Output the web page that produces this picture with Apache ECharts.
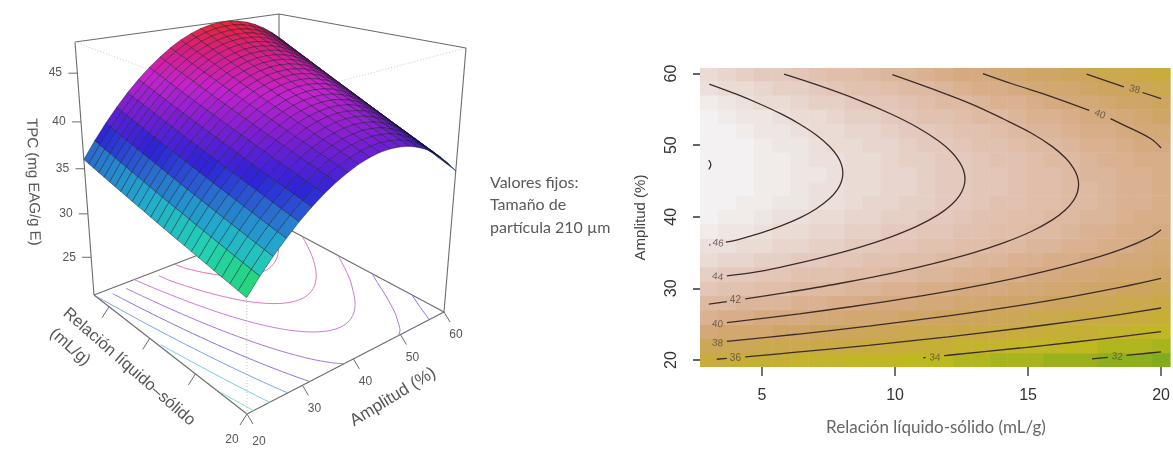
<!DOCTYPE html>
<html><head><meta charset="utf-8"><title>TPC</title>
<style>html,body{margin:0;padding:0;background:#fff}#c{width:1173px;height:468px}</style>
<script src="https://cdn.jsdelivr.net/npm/echarts@6/dist/echarts.min.js"></script></head>
<body><div id="c"></div>
<script>
// ---------- DATA ----------
const relacion=[3,3.68,4.36,5.04,5.72,6.4,7.08,7.76,8.44,9.12,9.8,10.48,11.16,11.84,12.52,13.2,13.88,14.56,15.24,15.92,16.6,17.28,17.96,18.64,19.32,20];
const amplitud=[20,22,24,26,28,30,32,34,36,38,40,42,44,46,48,50,52,54,56,58,60];
const tpcA20=[36.00,35.83,35.67,35.50,35.33,35.16,34.99,34.82,34.65,34.47,34.30,34.13,33.95,33.77,33.60,33.42,33.24,33.07,32.89,32.71,32.53,32.34,32.16,31.98,31.80,31.61];
const tpcA22=[37.73,37.55,37.38,37.20,37.02,36.84,36.66,36.48,36.30,36.11,35.93,35.75,35.56,35.38,35.19,35.01,34.82,34.63,34.44,34.25,34.06,33.87,33.68,33.48,33.29,33.10];
const tpcA24=[39.32,39.13,38.95,38.76,38.57,38.38,38.19,38.00,37.81,37.62,37.42,37.23,37.04,36.84,36.64,36.45,36.25,36.05,35.85,35.65,35.45,35.25,35.05,34.85,34.65,34.44];
const tpcA26=[40.78,40.58,40.39,40.19,39.99,39.79,39.59,39.39,39.19,38.99,38.78,38.58,38.38,38.17,37.97,37.76,37.55,37.35,37.14,36.93,36.72,36.51,36.29,36.08,35.87,35.65];
const tpcA28=[42.11,41.90,41.70,41.49,41.28,41.07,40.86,40.65,40.44,40.23,40.02,39.80,39.59,39.37,39.16,38.94,38.73,38.51,38.29,38.07,37.85,37.63,37.41,37.19,36.96,36.74];
const tpcA30=[43.30,43.08,42.87,42.65,42.43,42.21,41.99,41.77,41.55,41.33,41.11,40.88,40.66,40.44,40.21,39.98,39.76,39.53,39.30,39.07,38.84,38.61,38.38,38.15,37.92,37.68];
const tpcA32=[44.37,44.14,43.92,43.69,43.46,43.23,43.00,42.77,42.54,42.31,42.08,41.85,41.61,41.38,41.14,40.91,40.67,40.43,40.20,39.96,39.72,39.48,39.23,38.99,38.75,38.51];
const tpcA34=[45.29,45.05,44.82,44.58,44.34,44.11,43.87,43.63,43.39,43.14,42.90,42.66,42.42,42.17,41.93,41.68,41.43,41.18,40.94,40.69,40.44,40.19,39.94,39.69,39.44,39.18];
const tpcA36=[46.09,45.85,45.60,45.35,45.10,44.86,44.61,44.36,44.11,43.85,43.60,43.35,43.10,42.84,42.59,42.33,42.08,41.82,41.56,41.30,41.04,40.78,40.52,40.26,40.00,39.73];
const tpcA38=[46.76,46.51,46.25,45.99,45.73,45.48,45.22,44.96,44.70,44.44,44.17,43.91,43.65,43.38,43.12,42.85,42.59,42.32,42.05,41.79,41.52,41.24,40.97,40.70,40.43,40.16];
const tpcA40=[47.29,47.03,46.76,46.49,46.23,45.96,45.69,45.42,45.15,44.88,44.61,44.33,44.06,43.78,43.51,43.24,42.96,42.68,42.41,42.13,41.85,41.57,41.29,41.01,40.73,40.44];
const tpcA42=[47.69,47.42,47.14,46.86,46.59,46.31,46.03,45.75,45.47,45.19,44.91,44.63,44.34,44.06,43.77,43.49,43.20,42.92,42.63,42.34,42.05,41.76,41.47,41.18,40.89,40.60];
const tpcA44=[47.95,47.67,47.38,47.09,46.81,46.52,46.23,45.94,45.65,45.36,45.07,44.78,44.48,44.19,43.90,43.60,43.31,43.01,42.71,42.41,42.12,41.82,41.52,41.22,40.91,40.61];
const tpcA46=[48.08,47.79,47.49,47.19,46.90,46.60,46.30,46.00,45.70,45.40,45.10,44.80,44.50,44.19,43.89,43.58,43.28,42.97,42.67,42.36,42.05,41.74,41.43,41.12,40.81,40.49];
const tpcA48=[48.08,47.78,47.47,47.17,46.86,46.55,46.24,45.93,45.62,45.31,45.00,44.69,44.38,44.07,43.75,43.44,43.12,42.81,42.49,42.17,41.85,41.53,41.21,40.89,40.57,40.25];
const tpcA50=[47.95,47.64,47.32,47.01,46.69,46.37,46.05,45.73,45.41,45.09,44.77,44.45,44.13,43.81,43.48,43.16,42.83,42.51,42.18,41.85,41.52,41.19,40.86,40.54,40.20,39.87];
const tpcA52=[47.69,47.37,47.04,46.72,46.39,46.06,45.73,45.41,45.08,44.75,44.42,44.08,43.75,43.42,43.09,42.75,42.42,42.08,41.74,41.41,41.07,40.73,40.39,40.05,39.71,39.37];
const tpcA54=[47.29,46.96,46.62,46.29,45.95,45.61,45.28,44.94,44.60,44.26,43.92,43.58,43.23,42.89,42.55,42.20,41.86,41.51,41.17,40.82,40.47,40.12,39.77,39.42,39.07,38.72];
const tpcA56=[46.76,46.42,46.07,45.73,45.38,45.03,44.69,44.34,43.99,43.64,43.29,42.94,42.58,42.23,41.88,41.53,41.17,40.82,40.46,40.10,39.74,39.39,39.03,38.67,38.31,37.94];
const tpcA58=[46.09,45.74,45.38,45.03,44.67,44.31,43.96,43.60,43.24,42.88,42.52,42.16,41.80,41.44,41.08,40.71,40.34,39.98,39.61,39.24,38.88,38.51,38.14,37.77,37.40,37.03];
const tpcA60=[45.29,44.93,44.56,44.20,43.83,43.47,43.10,42.73,42.36,41.99,41.62,41.25,40.88,40.51,40.14,39.76,39.39,39.01,38.63,38.26,37.88,37.50,37.13,36.75,36.37,35.98];
const tpc=[tpcA20,tpcA22,tpcA24,tpcA26,tpcA28,tpcA30,tpcA32,tpcA34,tpcA36,tpcA38,tpcA40,tpcA42,tpcA44,tpcA46,tpcA48,tpcA50,tpcA52,tpcA54,tpcA56,tpcA58,tpcA60];

// Contour segments [relación, amplitud], broken where the picture has a label
const contour48=[[[3.0,47.9],[3.08,47.3],[3.0,46.6]]];
const contour46=[[[3.02,36.05],[3.06,36.1]],[[3.64,36.45],[4.04,36.75],[4.94,37.7],[5.74,38.75],[6.44,39.87],[7.04,41.12],[7.54,42.54],[7.84,43.83],[7.99,44.95],[8.04,46.09],[7.99,47.25],[7.84,48.43],[7.54,49.82],[7.04,51.42],[6.44,52.89],[5.74,54.32],[4.94,55.71],[4.04,57.11],[3.02,58.53]]];
const contour44=[[[3.68,31.75],[4.63,32.2],[5.63,32.91],[7.13,34.19],[8.63,35.69],[9.83,37.16],[10.83,38.68],[11.63,40.30],[12.13,41.72],[12.43,43.00],[12.58,44.13],[12.63,45.27],[12.58,46.43],[12.43,47.60],[12.13,49.00],[11.63,50.60],[10.83,52.50],[9.83,54.38],[8.63,56.29],[7.13,58.33],[5.83,59.91]]];
const contour42=[[[3.0,27.81],[3.68,28.16]],[[4.37,28.53],[5.9,29.41],[7.9,30.68],[9.9,32.14],[11.4,33.42],[12.9,34.92],[14.1,36.39],[15.1,37.91],[15.9,39.53],[16.4,40.95],[16.7,42.23],[16.85,43.36],[16.9,44.5],[16.85,45.66],[16.7,46.83],[16.4,48.23],[15.9,49.83],[15.1,51.73],[14.1,53.61],[12.9,55.7],[11.4,57.85],[9.9,59.85]]];
const contour40=[[[3.68,25.21],[6.4,26.45],[8.4,27.47],[10.4,28.6],[12.4,29.87],[14.4,31.33],[15.9,32.61],[17.4,34.11],[18.6,35.58],[19.6,37.2],[20.0,38.2]],[[20.0,49.6],[19.6,50.92],[18.6,52.8],[18.1,53.7]],[[17.3,54.85],[15.9,56.75],[14.4,58.57],[13.3,60.0]]];
const contour38=[[[3.68,22.59],[6.3,23.59],[9.0,24.73],[12.0,26.15],[14.7,27.62],[16.6,28.81],[18.5,30.16],[20.0,31.38]],[[20.0,56.5],[19.3,57.35]],[[18.6,58.15],[17.2,59.9]]];
const contour36=[[[3.3,20.1],[3.68,20.22]],[[4.37,20.43],[6.3,21.09],[9.0,22.05],[12.0,23.24],[14.7,24.43],[16.6,25.36],[18.5,26.38],[20.0,27.26]]];
const contour34=[[[11.06,20.3],[11.15,20.35]],[[11.84,20.61],[12.0,20.66],[14.7,21.67],[16.6,22.44],[18.5,23.27],[20.0,23.97]]];
const contour32=[[[17.4,20.15],[18.0,20.37]],[[18.7,20.64],[19.3,20.87],[20.0,21.14]]];
const contourLevels=[48,46,44,42,40,38,36,34,32];
const contourSets=[contour48,contour46,contour44,contour42,contour40,contour38,contour36,contour34,contour32];
const contourLabelText=['46','44','42','40','38','36','34','32','40','38'];
const contourLabelRel=[3.35,3.33,4.0,3.33,3.33,4.0,11.5,18.35,17.7,19.0];
const contourLabelAmp=[36.3,31.6,28.35,25.0,22.35,20.2,20.3,20.45,54.3,57.75];

const tpcTicks=[25,30,35,40,45];
const relTicks=[5,10,15,20];
const relTickLabels=['','','','20'];
const ampTicks=[20,30,40,50,60];
const heatXTicks=[5,10,15,20];
const heatYTicks=[20,30,40,50,60];

// ---------- VIEW of the 3D box ----------
const relRange=[3,20], ampRange=[20,60], tpcRange=[20.5,48.1];
const floorQuad=[[94,295],[247,414],[444,312],[279,224]];
const topQuad=[[75,42],[246,106],[466,48],[279,14]];
function homography(q){
  const [p0,p1,p2,p3]=q;
  const sx=p0[0]-p1[0]+p2[0]-p3[0], sy=p0[1]-p1[1]+p2[1]-p3[1];
  const dx1=p1[0]-p2[0], dx2=p3[0]-p2[0], dy1=p1[1]-p2[1], dy2=p3[1]-p2[1];
  const det=dx1*dy2-dx2*dy1;
  const g=(sx*dy2-dx2*sy)/det, h=(dx1*sy-sx*dy1)/det;
  const a=p1[0]*(1+g)-p0[0], d=p1[1]*(1+g)-p0[1];
  const b=p3[0]*(1+h)-p0[0], e=p3[1]*(1+h)-p0[1];
  return (u,v)=>{const n=1+g*u+h*v;return [(p0[0]+a*u+b*v)/n,(p0[1]+d*u+e*v)/n];};
}
const floorH=homography(floorQuad), topH=homography(topQuad);
function project(rel,amp,z){
  const u=(rel-relRange[0])/(relRange[1]-relRange[0]);
  const v=(amp-ampRange[0])/(ampRange[1]-ampRange[0]);
  const w=(z-tpcRange[0])/(tpcRange[1]-tpcRange[0]);
  const f=w*0.9/(1-0.1*w);
  const a=floorH(u,v), b=topH(u,v);
  return [a[0]+(b[0]-a[0])*f, a[1]+(b[1]-a[1])*f];
}
// ---------- COLOURS ----------
const surfaceStops=[[32,[40,215,105]],[33.5,[35,208,180]],[35,[35,170,205]],[36.5,[40,120,205]],[38.5,[45,35,215]],[41,[120,30,210]],[43.5,[195,35,205]],[46,[215,30,130]],[48,[228,40,55]]];
const heatStops=[[31.5,[130,172,30]],[34,[190,185,30]],[36,[200,172,62]],[38,[205,165,95]],[40,[214,170,128]],[42,[222,186,162]],[44,[228,202,190]],[46,[236,224,220]],[47.5,[243,241,241]]];
function ramp(stops,z){
  if(z<=stops[0][0])return stops[0][1].slice();
  for(let k=1;k<stops.length;k++){
    if(z<=stops[k][0]){const t=(z-stops[k-1][0])/(stops[k][0]-stops[k-1][0]);
      return stops[k][1].map((c,n)=>stops[k-1][1][n]+(c-stops[k-1][1][n])*t);}
  }
  return stops[stops.length-1][1].slice();
}
const rgb=c=>'rgb('+c.map(Math.round).join(',')+')';
const light=[0.5,-0.65,0.45];
function surfaceColor(i,j){
  const row=tpc[j],up=tpc[j+1];
  const m=(row[i]+row[i+1]+up[i]+up[i+1])/4;
  const span=tpcRange[1]-tpcRange[0];
  const zu=((row[i+1]+up[i+1]-row[i]-up[i])/2)*25/span, zv=((up[i]+up[i+1]-row[i]-row[i+1])/2)*20/span;
  const len=Math.hypot(zu,zv,1);
  const dot=(-zu*light[0]-zv*light[1]+light[2])/len;
  const b=Math.max(0.15,Math.min(1,0.42+1.3*dot));
  return rgb(ramp(surfaceStops,m).map(c=>c*b));
}
// ---------- DERIVED LISTS ----------
const quads=[];
for(let j=amplitud.length-2;j>=0;j--)for(let i=0;i<relacion.length-1;i++)quads.push([i,j]);
const heatCells=[];
amplitud.forEach((a,j)=>relacion.forEach((r,i)=>heatCells.push([r,a,tpc[j][i]])));
const floorLines=[];
contourSets.forEach((set,k)=>{
  let cur=null;
  set.forEach(seg=>{
    if(cur){const e=cur[cur.length-1];if(Math.abs(e[0]-seg[0][0])<1.5&&Math.abs(e[1]-seg[0][1])<3){cur=cur.concat(seg);floorLines[floorLines.length-1].pts=cur;return;}}
    cur=seg.slice();floorLines.push({level:contourLevels[k],pts:cur});
  });
});
const R0=relRange[0],R1=relRange[1],A0=ampRange[0],A1=ampRange[1],Z0=tpcRange[0],Z1=tpcRange[1];
const boxEdges=[
 [R0,A1,Z0,R0,A0,Z0,0],[R0,A1,Z0,R1,A1,Z0,0],[R0,A0,Z0,R1,A0,Z0,0],[R1,A0,Z0,R1,A1,Z0,0],
 [R0,A0,Z0,R0,A0,Z1,0],[R1,A1,Z0,R1,A1,Z1,0],[R0,A1,Z0,R0,A1,Z1,0],
 [R0,A0,Z1,R0,A1,Z1,0],[R0,A1,Z1,R1,A1,Z1,0],
 [R0,A0,Z1,R1,A0,Z1,1],[R1,A0,Z1,R1,A1,Z1,1],[R1,A0,Z0,R1,A0,Z1,1]];
const axisMarks=[];
tpcTicks.forEach(v=>axisMarks.push([0,v,0]));
relTicks.forEach((v,k)=>axisMarks.push([1,v,k]));
ampTicks.forEach(v=>axisMarks.push([2,v,0]));

const GREY='#6b6b6b', TXT='#565656';
function coordPts(api,pts){return pts.map(p=>api.coord(p));}
const option={
 animation:false,backgroundColor:'#fff',
 graphic:[
  {type:'text',x:490,y:183,style:{text:'Valores fijos:',font:'16px Lato',fill:'#595959',align:'left',verticalAlign:'middle'}},
  {type:'text',x:490,y:205,style:{text:'Tamaño de',font:'16px Lato',fill:'#595959',align:'left',verticalAlign:'middle'}},
  {type:'text',x:490,y:228,style:{text:'partícula 210 µm',font:'16px Lato',fill:'#595959',align:'left',verticalAlign:'middle'}},
  {type:'text',x:33,y:182,rotation:-1.54,style:{text:'TPC (mg EAG/g E)',font:'15px "Liberation Sans"',fill:TXT,align:'center',verticalAlign:'middle'}},
  {type:'text',x:129,y:367,rotation:-0.72,style:{text:'Relación líquido–sólido',font:'16.5px "Liberation Sans"',fill:TXT,align:'center',verticalAlign:'middle'}},
  {type:'text',x:70,y:347,rotation:-0.72,style:{text:'(mL/g)',font:'16.5px "Liberation Sans"',fill:TXT,align:'center',verticalAlign:'middle'}},
  {type:'text',x:393,y:397,rotation:0.55,style:{text:'Amplitud (%)',font:'17px "Liberation Sans"',fill:TXT,align:'center',verticalAlign:'middle'}}
 ],
 grid:[
  {left:0,top:0,width:1173,height:468,show:false},
  {left:700,top:68,width:472,height:299,show:false}
 ],
 xAxis:[
  {gridIndex:0,type:'value',min:0,max:1173,show:false},
  {gridIndex:1,type:'value',min:2.67,max:20.41,splitLine:{show:false},axisLine:{show:false},
   axisTick:{show:true,length:9,customValues:heatXTicks,lineStyle:{color:'#444',width:1.5}},
   axisLabel:{customValues:heatXTicks,margin:21,color:'#333',fontSize:16,fontFamily:'Liberation Sans'},
   name:'Relación líquido-sólido (mL/g)',nameLocation:'middle',nameGap:52,
   nameTextStyle:{fontFamily:'Lato',fontSize:17,color:'#666'}}
 ],
 yAxis:[
  {gridIndex:0,type:'value',min:0,max:468,inverse:true,show:false},
  {gridIndex:1,type:'value',min:19.02,max:60.77,splitLine:{show:false},axisLine:{show:false},
   axisTick:{show:true,length:7,customValues:heatYTicks,lineStyle:{color:'#333',width:1.5}},
   axisLabel:{customValues:heatYTicks,rotate:90,margin:20,color:'#333',fontSize:16,fontFamily:'Liberation Sans'},
   name:'Amplitud (%)',nameLocation:'middle',nameGap:38,
   nameTextStyle:{fontFamily:'Liberation Sans',fontSize:15,color:'#444',padding:[0,0,14,0]}}
 ],
 series:[
  // box edges
  {type:'custom',xAxisIndex:0,yAxisIndex:0,silent:true,clip:false,data:boxEdges.map((e,k)=>[k,0]),
   renderItem(p,api){const e=boxEdges[api.value(0)];
    const a=api.coord(project(e[0],e[1],e[2])),b=api.coord(project(e[3],e[4],e[5]));
    return {type:'line',shape:{x1:a[0],y1:a[1],x2:b[0],y2:b[1]},
      style:e[6]?{stroke:'#c9c9c9',lineWidth:1,lineDash:[1,2]}:{stroke:GREY,lineWidth:1.1}};}},
  // floor contours
  {type:'custom',xAxisIndex:0,yAxisIndex:0,silent:true,clip:false,data:floorLines.map((l,k)=>[k,l.level]),
   renderItem(p,api){const l=floorLines[api.value(0)];
    const pts=coordPts(api,l.pts.map(q=>project(q[0],q[1],Z0)));
    const c=ramp(surfaceStops,l.level+0.8).map(v=>v*0.62+255*0.38);
    return {type:'polyline',shape:{points:pts,smooth:0.3},style:{stroke:rgb(c),lineWidth:1,fill:null}};}},
  // axis ticks & labels of the 3D box
  {type:'custom',xAxisIndex:0,yAxisIndex:0,silent:true,clip:false,data:axisMarks,
   renderItem(p,api){const kind=api.value(0),v=api.value(1);
    let a,d,lab,off;
    if(kind===0){a=project(R0,A0,v);d=[-9,0];lab=String(v);off=[-22,0];}
    else if(kind===1){a=project(v,A0,Z0);d=[-7,11];lab=relTickLabels[api.value(2)];off=[-15,26];}
    else{a=project(R1,v,Z0);d=[6,10];lab=String(v);off=[12,v===20?28:23];}
    const A=api.coord(a),B=api.coord([a[0]+d[0],a[1]+d[1]]),T=api.coord([a[0]+off[0],a[1]+off[1]]);
    const kids=[{type:'line',shape:{x1:A[0],y1:A[1],x2:B[0],y2:B[1]},style:{stroke:GREY,lineWidth:1}}];
    if(lab)kids.push({type:'text',x:T[0],y:T[1],style:{text:lab,font:'12px "Liberation Sans"',fill:TXT,align:'center',verticalAlign:'middle'}});
    return {type:'group',children:kids};}},
  // surface
  {type:'custom',xAxisIndex:0,yAxisIndex:0,silent:true,clip:false,data:quads,
   renderItem(p,api){const i=api.value(0),j=api.value(1);
    const pts=[[i,j],[i+1,j],[i+1,j+1],[i,j+1]].map(c=>api.coord(project(relacion[c[0]],amplitud[c[1]],tpc[c[1]][c[0]])));
    return {type:'polygon',shape:{points:pts},style:{fill:surfaceColor(i,j),stroke:'rgba(12,12,35,0.58)',lineWidth:0.7}};}},
  // heat map cells
  {type:'custom',xAxisIndex:1,yAxisIndex:1,silent:true,clip:true,data:heatCells,
   renderItem(p,api){const r=api.value(0),a=api.value(1),z=api.value(2);
    const s=api.coord([r-0.34,a+1]),e=api.coord([r+0.34,a-1]);
    const q=Math.round(z/0.5)*0.5;
    const c=rgb(ramp(heatStops,q));
    return {type:'rect',shape:{x:s[0],y:s[1],width:e[0]-s[0]+0.5,height:e[1]-s[1]+0.5},style:{fill:c}};}}
 ]
};
// contour segments on the map
contourSets.forEach(set=>set.forEach(seg=>option.series.push({
  type:'line',xAxisIndex:1,yAxisIndex:1,data:seg,smooth:0.35,showSymbol:false,silent:true,z:4,
  lineStyle:{color:'#3b2c2a',width:1.3}
})));
const labelTilt=[-8,-8,0,-5,-5,0,-3,-5,-22,-15];
option.series.push({type:'scatter',xAxisIndex:1,yAxisIndex:1,silent:true,z:5,symbolSize:1,itemStyle:{color:'rgba(0,0,0,0)'},
  label:{show:true,position:'inside',fontSize:10,color:'#5a4a3e',fontFamily:'Liberation Sans',formatter:p=>p.name},
  data:contourLabelText.map((t,k)=>({value:[contourLabelRel[k],contourLabelAmp[k]],name:t,label:{rotate:labelTilt[k]}}))});
const chart=echarts.init(document.getElementById('c'),null,{renderer:'canvas',width:1173,height:468});
chart.setOption(option);
</script></body></html>
